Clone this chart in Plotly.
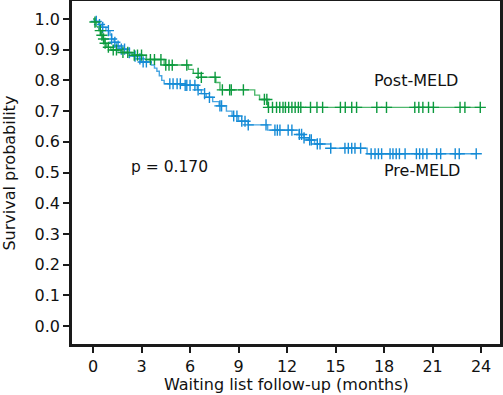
import numpy as np
import plotly.graph_objects as go

# Post-MELD Kaplan-Meier steps (time in months, survival after step)
post_times = [0.0, 0.08, 0.2, 0.35, 0.5, 0.6, 0.7, 0.85, 1.1, 1.7, 2.4, 3.3, 4.4,
              5.9, 6.2, 6.7, 7.6, 7.85, 10.0, 10.3, 10.8]
post_surv = [1.0, 0.99, 0.975, 0.962, 0.947, 0.935, 0.921, 0.908, 0.899, 0.891, 0.882,
             0.868, 0.85, 0.836, 0.823, 0.81, 0.793, 0.769, 0.752, 0.738, 0.712]
post_end = 23.95
post_censor = [0.12, 0.45, 0.55, 0.65, 0.75, 0.95, 1.25, 1.45, 1.85, 2.15, 2.55, 2.75,
               3.0, 3.55, 3.8, 4.2, 4.5, 4.7, 4.9, 5.8, 6.5, 6.7, 7.55, 8.0, 8.45, 8.55,
               9.3, 10.6, 10.75, 10.85, 11.1, 11.35, 11.55, 11.75, 11.9, 12.1, 12.3,
               12.5, 12.7, 12.85, 13.45, 13.85, 14.2, 15.3, 15.6, 16.0, 16.3, 17.55,
               18.15, 19.9, 20.15, 20.4, 20.75, 21.05, 22.7, 23.0, 23.95]

# Pre-MELD Kaplan-Meier steps
pre_times = [0.0, 0.15, 0.35, 0.55, 0.8, 1.05, 1.15, 1.3, 1.45, 1.65, 2.1, 2.45, 2.75,
             2.95, 3.6, 3.8, 3.95, 4.1, 4.25, 4.4, 5.5, 6.45, 6.7, 7.0, 7.4, 7.8, 8.25,
             8.6, 9.0, 9.6, 10.8, 12.75, 13.05, 13.35, 13.7, 14.7, 16.95]
pre_surv = [1.0, 0.992, 0.982, 0.973, 0.962, 0.948, 0.935, 0.924, 0.912, 0.902, 0.89,
            0.879, 0.87, 0.86, 0.85, 0.84, 0.83, 0.815, 0.8, 0.789, 0.784, 0.769, 0.757,
            0.745, 0.731, 0.717, 0.7, 0.684, 0.667, 0.655, 0.638, 0.624, 0.613, 0.606,
            0.593, 0.579, 0.561]
pre_end = 23.7
pre_censor = [0.2, 0.4, 0.6, 0.95, 1.15, 1.35, 1.55, 1.75, 1.95, 2.25, 2.6, 2.9, 3.1,
              3.3, 4.75, 4.95, 5.2, 5.4, 5.7, 5.8, 6.0, 6.3, 6.5, 6.9, 7.2, 7.85, 7.95,
              8.7, 8.9, 9.2, 9.4, 9.6, 10.7, 11.25, 11.4, 11.56, 12.07, 12.3, 12.76,
              12.9, 13.05, 13.4, 13.5, 13.87, 14.04, 14.7, 15.58, 15.79, 16.0, 16.2,
              16.55, 17.2, 17.44, 17.65, 17.85, 18.37, 18.55, 18.75, 18.95, 19.3, 20.0,
              20.2, 20.4, 20.65, 21.25, 21.5, 22.4, 22.65, 23.7]

x_ticks = [0, 3, 6, 9, 12, 15, 18, 21, 24]
y_ticks = [0.0, 0.1, 0.2, 0.3, 0.4, 0.5, 0.6, 0.7, 0.8, 0.9, 1.0]

GREEN_LINE = "#4fb86e"
GREEN = "#0c9a3e"
BLUE_LINE = "#4aa6e2"
BLUE = "#158bd6"
FONT = "DejaVu Sans"
TXT = "#111111"


def step_value(times, surv, t):
    idx = np.searchsorted(np.array(times), np.array(t), side="right") - 1
    return np.array(surv)[np.clip(idx, 0, len(surv) - 1)]


fig = go.Figure()
for times, surv, end, cens, lc, mc, name in [
    (pre_times, pre_surv, pre_end, pre_censor, BLUE_LINE, BLUE, "Pre-MELD"),
    (post_times, post_surv, post_end, post_censor, GREEN_LINE, GREEN, "Post-MELD"),
]:
    fig.add_trace(go.Scatter(
        x=list(times) + [end], y=list(surv) + [surv[-1]],
        mode="lines", line=dict(color=lc, width=1.4, shape="hv"),
        name=name, showlegend=False, hoverinfo="skip"))
    fig.add_trace(go.Scatter(
        x=cens, y=step_value(times, surv, cens), mode="markers",
        marker=dict(symbol="cross-thin", size=8, line=dict(color=mc, width=1.4)),
        showlegend=False, hoverinfo="skip"))

fig.add_annotation(x=19.97, y=0.801, text="Post-MELD", showarrow=False,
                   font=dict(family=FONT, size=16, color=TXT))
fig.add_annotation(x=20.35, y=0.508, text="Pre-MELD", showarrow=False,
                   font=dict(family=FONT, size=16, color=TXT))
fig.add_annotation(x=4.76, y=0.518, text="p = 0.170", showarrow=False,
                   font=dict(family=FONT, size=15.5, color=TXT))
fig.add_annotation(xref="paper", yref="paper", x=0.5, y=-0.1195,
                   text="Waiting list follow-up (months)", showarrow=False,
                   xanchor="center", yanchor="middle",
                   font=dict(family=FONT, size=16, color=TXT))
fig.add_annotation(xref="paper", yref="paper", x=-0.147, y=0.497,
                   text="Survival probability", showarrow=False, textangle=-90,
                   xanchor="center", yanchor="middle",
                   font=dict(family=FONT, size=16, color=TXT))

axis_common = dict(showline=True, linecolor="#1a1a1a", linewidth=2.5, mirror=True,
                   ticks="outside", ticklen=6, tickwidth=2, tickcolor="#1a1a1a",
                   showgrid=False, zeroline=False, automargin=False,
                   tickfont=dict(family=FONT, size=16, color=TXT))

fig.update_layout(
    width=503, height=395,
    margin=dict(l=72, r=3, t=1, b=51),
    paper_bgcolor="white", plot_bgcolor="white",
    xaxis=dict(range=[-1.3, 25.17], tickvals=x_ticks,
               ticktext=[str(v) for v in x_ticks], **axis_common),
    yaxis=dict(range=[-0.0586, 1.0586], tickvals=y_ticks,
               ticktext=[f"{v:.1f}" for v in y_ticks], **axis_common),
)

fig.write_html("out.html",
               config={"displayModeBar": False},
               post_script="document.body.style.margin='0px';"
                           "document.body.style.overflow='hidden';")
